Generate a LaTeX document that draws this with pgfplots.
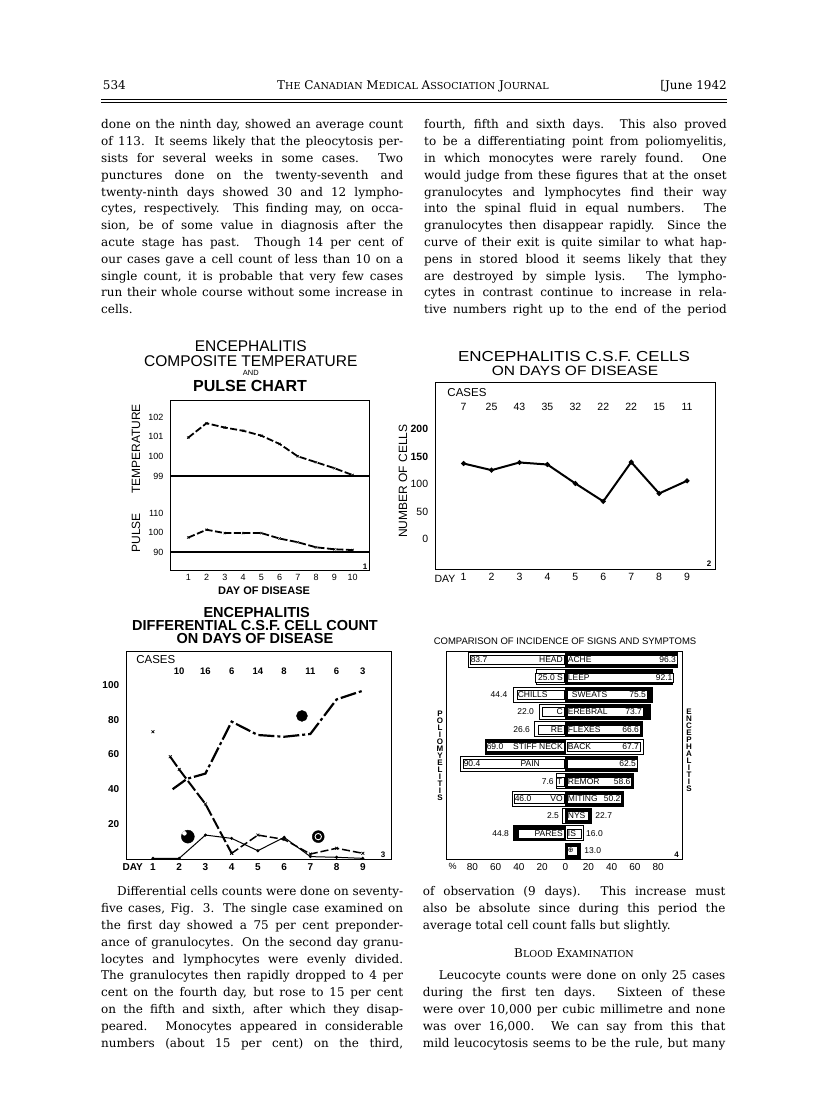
\documentclass[border=0pt]{standalone}
\usepackage{pgfplots}
\pgfplotsset{compat=1.18}
\usepackage{graphicx}
\usepackage{fontspec}
\newfontfamily\cf{Liberation Sans}
\newfontfamily\dv{DejaVu Sans}
\newfontfamily\sr{DejaVu Serif}
\newcommand{\fs}[1]{\fontsize{#1}{#1}\selectfont}
\newcommand{\body}{\sr\fontsize{12}{16.8}\selectfont\tolerance=9999\hyphenpenalty=10000\relax}
\newcommand{\sm}[1]{{\fontsize{9.6}{10}\selectfont #1}}
\pgfplotsset{
 base/.style={scale only axis, anchor=south west, clip=false,
   axis line style={line width=1pt}, major tick length=0pt,
   /pgf/number format/assume math mode=true},
}
\tikzset{
 lbox/.style={draw, fill=white, line width=0.5pt, inner sep=1pt, minimum height=9pt, font=\cf\fs{8.5}},
 olab/.style={inner sep=1pt, font=\cf\fs{8.5}},
}
\newcommand{\LBw}[5]{\node[lbox,anchor=#1] at (axis cs:#2,#3) {\makebox[#4pt][l]{#5}};}
\begin{document}
\begin{tikzpicture}
\fill[white] (0,0) rectangle (816pt,1108pt);
\path[use as bounding box] (0,0) rectangle (816pt,1108pt);

% ---------------- Chart 1: temperature ----------------
\begin{axis}[base, at={(170pt,537pt)}, width=199pt, height=170pt,
  xmin=0, xmax=10.9, ymin=94.18, ymax=102.81,
  xtick={1,...,10}, ytick={100,101,102},
  extra y ticks={99}, extra y tick style={grid=major},
  major grid style={black, line width=1.1pt},
  tick label style={font=\cf\fs{9}},
  yticklabel style={xshift=-3pt}]
\addplot[black, line width=1.8pt, dash pattern=on 7pt off 2.5pt, mark=x, mark size=1.6pt, mark options={solid, line width=0.6pt}]
 coordinates {(1,100.95)(2,101.68)(3,101.46)(4,101.3)(5,101.05)(6,100.63)(7,100.0)(8,99.7)(9,99.4)(10,99.05)};
\end{axis}
% pulse
\begin{axis}[base, at={(170pt,537pt)}, width=199pt, height=170pt,
  axis line style={draw=none},
  xmin=0, xmax=10.9, ymin=80.26, ymax=167.4,
  xtick=\empty, ytick={100,110},
  extra y ticks={90}, extra y tick style={grid=major},
  major grid style={black, line width=1.1pt},
  tick label style={font=\cf\fs{9}},
  yticklabel style={xshift=-3pt}]
\addplot[black, line width=1.8pt, dash pattern=on 7pt off 2.5pt, mark=x, mark size=1.6pt, mark options={solid, line width=0.6pt}]
 coordinates {(1,97.4)(2,101.4)(3,99.7)(4,99.7)(5,99.7)(6,96.9)(7,95.0)(8,92.4)(9,91.4)(10,91.0)};
\end{axis}

% ---------------- Chart 2: CSF cells ----------------
\begin{axis}[base, at={(435.7pt,538pt)}, width=279.3pt, height=187pt,
  xmin=0, xmax=10, ymin=-55.6, ymax=283.2,
  xtick={1,...,9}, ytick={0,50,100,150,200},
  yticklabels={0,50,100,\textbf{150},\textbf{200}},
  tick label style={font=\cf\fs{10.5}},
  yticklabel style={xshift=-4pt}]
\addplot[black, line width=2pt, mark=*, mark size=1.3pt]
 coordinates {(1,137.3)(2,125.3)(3,139.2)(4,135.5)(5,101.2)(6,68.7)(7,139.8)(8,83.1)(9,106)};
\node[font=\cf\fs{11.5}] at (axis cs:1.12,265) {CASES};
\node[font=\cf\fs{10.5}] at (axis cs:1,240) {7};
\node[font=\cf\fs{10.5}] at (axis cs:2,240) {25};
\node[font=\cf\fs{10.5}] at (axis cs:3,240) {43};
\node[font=\cf\fs{10.5}] at (axis cs:4,240) {35};
\node[font=\cf\fs{10.5}] at (axis cs:5,240) {32};
\node[font=\cf\fs{10.5}] at (axis cs:6,240) {22};
\node[font=\cf\fs{10.5}] at (axis cs:7,240) {22};
\node[font=\cf\fs{10.5}] at (axis cs:8,240) {15};
\node[font=\cf\fs{10.5}] at (axis cs:9,240) {11};
\end{axis}

% ---------------- Chart 3: differential ----------------
\begin{axis}[base, at={(126.7pt,248pt)}, width=265pt, height=208pt,
  xmin=0, xmax=10.1, ymin=-0.75, ymax=119,
  xtick={1,...,9}, ytick={20,40,60,80,100},
  tick label style={font=\cf\bfseries\fs{10}},
  yticklabel style={xshift=-4pt}]
% lymphocytes
\addplot[black, line width=2.2pt, dash pattern=on 16pt off 3pt on 3pt off 3pt]
 coordinates {(1.75,40)(2.3,46)(3,49)(4,78.9)(5,71.2)(6,70.2)(7,71.8)(8,91.7)(9,96.7)};
% granulocytes
\addplot[black, line width=2pt, dash pattern=on 12pt off 3pt, mark=x, mark size=2pt, mark options={solid, line width=0.7pt}]
 coordinates {(1.66,58.7)(2,51.4)(3,31.5)(4,3.1)};
\addplot[black, line width=1.5pt, dash pattern=on 8pt off 3pt, mark=x, mark size=2pt, mark options={solid, line width=0.7pt}]
 coordinates {(4,3.1)(5,13.6)(6,11.1)(7,2.7)(8,6)(9,3.1)};
\addplot[black, only marks, mark=x, mark size=2pt, mark options={line width=0.7pt}]
 coordinates {(1,73.1)};
% monocytes
\addplot[black, line width=1pt, mark=*, mark size=1pt]
 coordinates {(1,0.2)(2,0.2)(3,13.6)(4,11.7)(5,4.6)(6,12.3)(7,1.2)(8,0.8)(9,0.2)};
% cell symbols
\addplot[black, only marks, mark=*, mark size=5.5pt] coordinates {(6.68,82.2)};
\addplot[black, only marks, mark=*, mark size=6.5pt] coordinates {(2.33,12.7)};
\addplot[white, only marks, mark=*, mark size=2pt] coordinates {(2.2,14.6)};
\addplot[black, only marks, mark=*, mark size=6pt] coordinates {(7.3,12.7)};
\addplot[white, only marks, mark=o, mark size=3.2pt, mark options={line width=0.9pt}] coordinates {(7.3,12.7)};
\node[font=\cf\fs{11.5}] at (axis cs:1.11,114.4) {CASES};
\node[font=\cf\bfseries\fs{9.5}] at (axis cs:2,108.1) {10};
\node[font=\cf\bfseries\fs{9.5}] at (axis cs:3,108.1) {16};
\node[font=\cf\bfseries\fs{9.5}] at (axis cs:4,108.1) {6};
\node[font=\cf\bfseries\fs{9.5}] at (axis cs:5,108.1) {14};
\node[font=\cf\bfseries\fs{9.5}] at (axis cs:6,108.1) {8};
\node[font=\cf\bfseries\fs{9.5}] at (axis cs:7,108.1) {11};
\node[font=\cf\bfseries\fs{9.5}] at (axis cs:8,108.1) {6};
\node[font=\cf\bfseries\fs{9.5}] at (axis cs:9,108.1) {3};
\end{axis}

% ---------------- Chart 4: signs and symptoms ----------------
\begin{axis}[base, at={(446.7pt,248pt)}, width=236pt, height=208.3pt,
  xmin=-102.2, xmax=101.2, ymin=0.52, ymax=12.54, y dir=reverse,
  ytick=\empty, xtick={-80,-60,-40,-20,0,20,40,60,80},
  xticklabels={80,60,40,20,0,20,40,60,80},
  tick label style={font=\cf\fs{10}}]
% poliomyelitis (left)
\addplot[xbar, bar width=15pt, bar shift=0pt, draw=black, line width=0.8pt, fill=white]
 coordinates {(-83.7,1)(-25.0,2)(-44.4,3)(-22.0,4)(-26.6,5)(-90.4,7)(-7.6,8)(-46.0,9)(-2.5,10)};
\addplot[xbar, bar width=15pt, bar shift=0pt, draw=black, line width=0.8pt, fill=black]
 coordinates {(-69.0,6)(-44.8,11)};
% encephalitis (right)
\addplot[xbar, bar width=15pt, bar shift=0pt, draw=black, line width=0.8pt, fill=black]
 coordinates {(96.3,1)(92.1,2)(75.5,3)(73.7,4)(66.6,5)(62.5,7)(58.6,8)(50.2,9)(22.7,10)(13.0,12)};
\addplot[xbar, bar width=15pt, bar shift=0pt, draw=black, line width=0.8pt, fill=white]
 coordinates {(67.7,6)(16.0,11)};
% labels
\LBw{east}{-1.1}{1}{92}{83.7\hfill HEAD}
\LBw{west}{1.2}{1}{108}{ACHE\hfill 96.3}
\LBw{east}{-1.1}{2}{27}{\hfill 25.0 S}
\LBw{west}{1.2}{2}{104.5}{LEEP\hfill 92.1}
\node[olab, anchor=east] at (axis cs:-49,3) {44.4};
\LBw{east}{-1.1}{3}{45}{CHILLS\hfill}
\LBw{west}{1.2}{3}{78}{\hspace{4pt}SWEATS\hfill 75.5}
\node[olab, anchor=east] at (axis cs:-26,4) {22.0};
\LBw{east}{-1.1}{4}{20}{\hfill C}
\LBw{west}{1.2}{4}{74}{EREBRAL\hfill 73.7}
\node[olab, anchor=east] at (axis cs:-29.5,5) {26.6};
\LBw{east}{-1.1}{5}{24}{\hfill RE}
\LBw{west}{1.2}{5}{71}{FLEXES\hfill 66.6}
\LBw{east}{-1.1}{6}{76}{69.0\hfill STIFF NECK}
\LBw{west}{1.2}{6}{71}{BACK\hfill 67.7}
\LBw{east}{-1.1}{7}{99}{90.4\hfill PAIN\hspace{23pt}}
\LBw{west}{1.2}{7}{68}{\hfill 62.5}
\node[olab, anchor=east] at (axis cs:-9,8) {7.6};
\LBw{east}{-1.1}{8}{6}{T}
\LBw{west}{1.2}{8}{62.5}{REMOR\hfill 58.6}
\LBw{east}{-1.1}{9}{48}{46.0\hfill VO}
\LBw{west}{1.2}{9}{52.5}{MITING\hfill 50.2}
\node[olab, anchor=east] at (axis cs:-4.5,10) {2.5};
\LBw{west}{1.2}{10}{19.5}{NYS}
\node[olab, anchor=west] at (axis cs:25,10) {22.7};
\node[olab, anchor=east] at (axis cs:-47.5,11) {44.8};
\LBw{east}{-1.1}{11}{43.7}{\hfill PARES}
\LBw{west}{1.2}{11}{12.8}{IS}
\node[olab, anchor=west] at (axis cs:17,11) {16.0};
\LBw{west}{1.2}{12}{8}{\dv\fs{7}⊕}
\node[olab, anchor=west] at (axis cs:15.5,12) {13.0};
\end{axis}

% ---------------- text and annotations (pixel coordinates) ----------------
\begin{scope}[x=1pt, y=-1pt, shift={(0pt,1108pt)}]
% header
\node[anchor=base west, inner sep=0, font=\sr\fontsize{12}{15}\selectfont] at (102.7,89.5) {534};
\node[anchor=base, inner sep=0, font=\sr\fontsize{12}{15}\selectfont] at (413,89.5) {T\sm{HE} C\sm{ANADIAN} M\sm{EDICAL} A\sm{SSOCIATION} J\sm{OURNAL}};
\node[anchor=base east, inner sep=0, font=\sr\fontsize{12}{15}\selectfont] at (727,89.5) {[June 1942};
\draw[line width=1.4pt] (101,99.6) -- (727,99.6);
\draw[line width=0.6pt] (101,102.8) -- (727,102.8);

% top columns
\node[anchor=north west, inner sep=0, text width=302pt, align=justify, font=\body] at (101,119.5) {%
done on the ninth day, showed an average count\linebreak
of 113. It seems likely that the pleocytosis per-\linebreak
sists for several weeks in some cases. Two\linebreak
punctures done on the twenty-seventh and\linebreak
twenty-ninth days showed 30 and 12 lympho-\linebreak
cytes, respectively. This finding may, on occa-\linebreak
sion, be of some value in diagnosis after the\linebreak
acute stage has past. Though 14 per cent of\linebreak
our cases gave a cell count of less than 10 on a\linebreak
single count, it is probable that very few cases\linebreak
run their whole course without some increase in\linebreak
cells.};
\node[anchor=north west, inner sep=0, text width=302.5pt, align=justify, font=\body] at (424,119.5) {\parfillskip=0pt
fourth, fifth and sixth days. This also proved\linebreak
to be a differentiating point from poliomyelitis,\linebreak
in which monocytes were rarely found. One\linebreak
would judge from these figures that at the onset\linebreak
granulocytes and lymphocytes find their way\linebreak
into the spinal fluid in equal numbers. The\linebreak
granulocytes then disappear rapidly. Since the\linebreak
curve of their exit is quite similar to what hap-\linebreak
pens in stored blood it seems likely that they\linebreak
are destroyed by simple lysis. The lympho-\linebreak
cytes in contrast continue to increase in rela-\linebreak
tive numbers right up to the end of the period\par};

% bottom columns
\node[anchor=north west, inner sep=0, text width=302pt, align=justify, font=\body] at (101,886.5) {\parfillskip=0pt
\hspace*{16pt}Differential cells counts were done on seventy-\linebreak
five cases, Fig. 3. The single case examined on\linebreak
the first day showed a 75 per cent preponder-\linebreak
ance of granulocytes. On the second day granu-\linebreak
locytes and lymphocytes were evenly divided.\linebreak
The granulocytes then rapidly dropped to 4 per\linebreak
cent on the fourth day, but rose to 15 per cent\linebreak
on the fifth and sixth, after which they disap-\linebreak
peared. Monocytes appeared in considerable\linebreak
numbers (about 15 per cent) on the third,\par};
\node[anchor=north west, inner sep=0, text width=302.5pt, align=justify, font=\body] at (422.7,886.5) {%
of observation (9 days). This increase must\linebreak
also be absolute since during this period the\linebreak
average total cell count falls but slightly.};
\node[inner sep=0, font=\sr\fontsize{12}{16}\selectfont] at (574,953) {B\sm{LOOD} E\sm{XAMINATION}};
\node[anchor=north west, inner sep=0, text width=302.5pt, align=justify, font=\body] at (422.7,970.5) {\parfillskip=0pt
\hspace*{16pt}Leucocyte counts were done on only 25 cases\linebreak
during the first ten days. Sixteen of these\linebreak
were over 10,000 per cubic millimetre and none\linebreak
was over 16,000. We can say from this that\linebreak
mild leucocytosis seems to be the rule, but many\par};

% chart 1 titles and labels
\node[inner sep=0, font=\cf\fs{15.5}] at (250.8,346) {ENCEPHALITIS};
\node[inner sep=0, font=\cf\fs{15.5}] at (250.8,360.7) {COMPOSITE TEMPERATURE};
\node[inner sep=0, font=\cf\fs{7.5}] at (250.8,373.3) {AND};
\node[inner sep=0, font=\cf\bfseries\fs{16}] at (250,386) {PULSE CHART};
\node[inner sep=0, rotate=90, font=\cf\fs{12}] at (136,449) {TEMPERATURE};
\node[inner sep=0, rotate=90, font=\cf\fs{12}] at (136,533) {PULSE};
\node[inner sep=0, font=\cf\bfseries\fs{11}] at (264,591) {DAY OF DISEASE};
\node[inner sep=0, font=\cf\bfseries\fs{8}] at (365,566.5) {1};

% chart 2 titles and labels
\node[inner sep=0, font=\cf\fs{14.5}] at (574,356.2) {\scalebox{1.17}[1]{ENCEPHALITIS C.S.F. CELLS}};
\node[inner sep=0, font=\cf\fs{13.5}] at (575,371.2) {\scalebox{1.15}[1]{ON DAYS OF DISEASE}};
\node[inner sep=0, rotate=90, font=\cf\fs{12}] at (403,481) {NUMBER OF CELLS};
\node[inner sep=0, font=\cf\fs{10.5}] at (445,579) {DAY};
\node[inner sep=0, font=\cf\bfseries\fs{8}] at (709,564) {2};

% chart 3 titles and labels
\node[inner sep=0, font=\cf\bfseries\fs{14.5}] at (256.7,613) {ENCEPHALITIS};
\node[inner sep=0, font=\cf\bfseries\fs{14.5}] at (255,625.5) {DIFFERENTIAL C.S.F. CELL COUNT};
\node[inner sep=0, font=\cf\bfseries\fs{14.5}] at (255,638.3) {ON DAYS OF DISEASE};
\node[inner sep=0, font=\cf\bfseries\fs{10}] at (132.7,866.7) {DAY};
\node[inner sep=0, font=\cf\bfseries\fs{8}] at (383,855) {3};

% chart 4 titles and labels
\node[inner sep=0, font=\cf\fs{9.5}] at (565,641.7) {COMPARISON OF INCIDENCE OF SIGNS AND SYMPTOMS};
\node[inner sep=0, font=\cf\fs{9}] at (452.7,866.5) {\%};
\node[inner sep=0, text width=8pt, align=center, font=\cf\bfseries\fontsize{8}{7}\selectfont] at (440,755.5) {P\\O\\L\\I\\O\\M\\Y\\E\\L\\I\\T\\I\\S};
\node[inner sep=0, text width=8pt, align=center, font=\cf\bfseries\fontsize{8}{7}\selectfont] at (689,750.5) {E\\N\\C\\E\\P\\H\\A\\L\\I\\T\\I\\S};
\node[inner sep=0, font=\cf\bfseries\fs{8}] at (676.7,855) {4};
\end{scope}
\end{tikzpicture}
\end{document}
